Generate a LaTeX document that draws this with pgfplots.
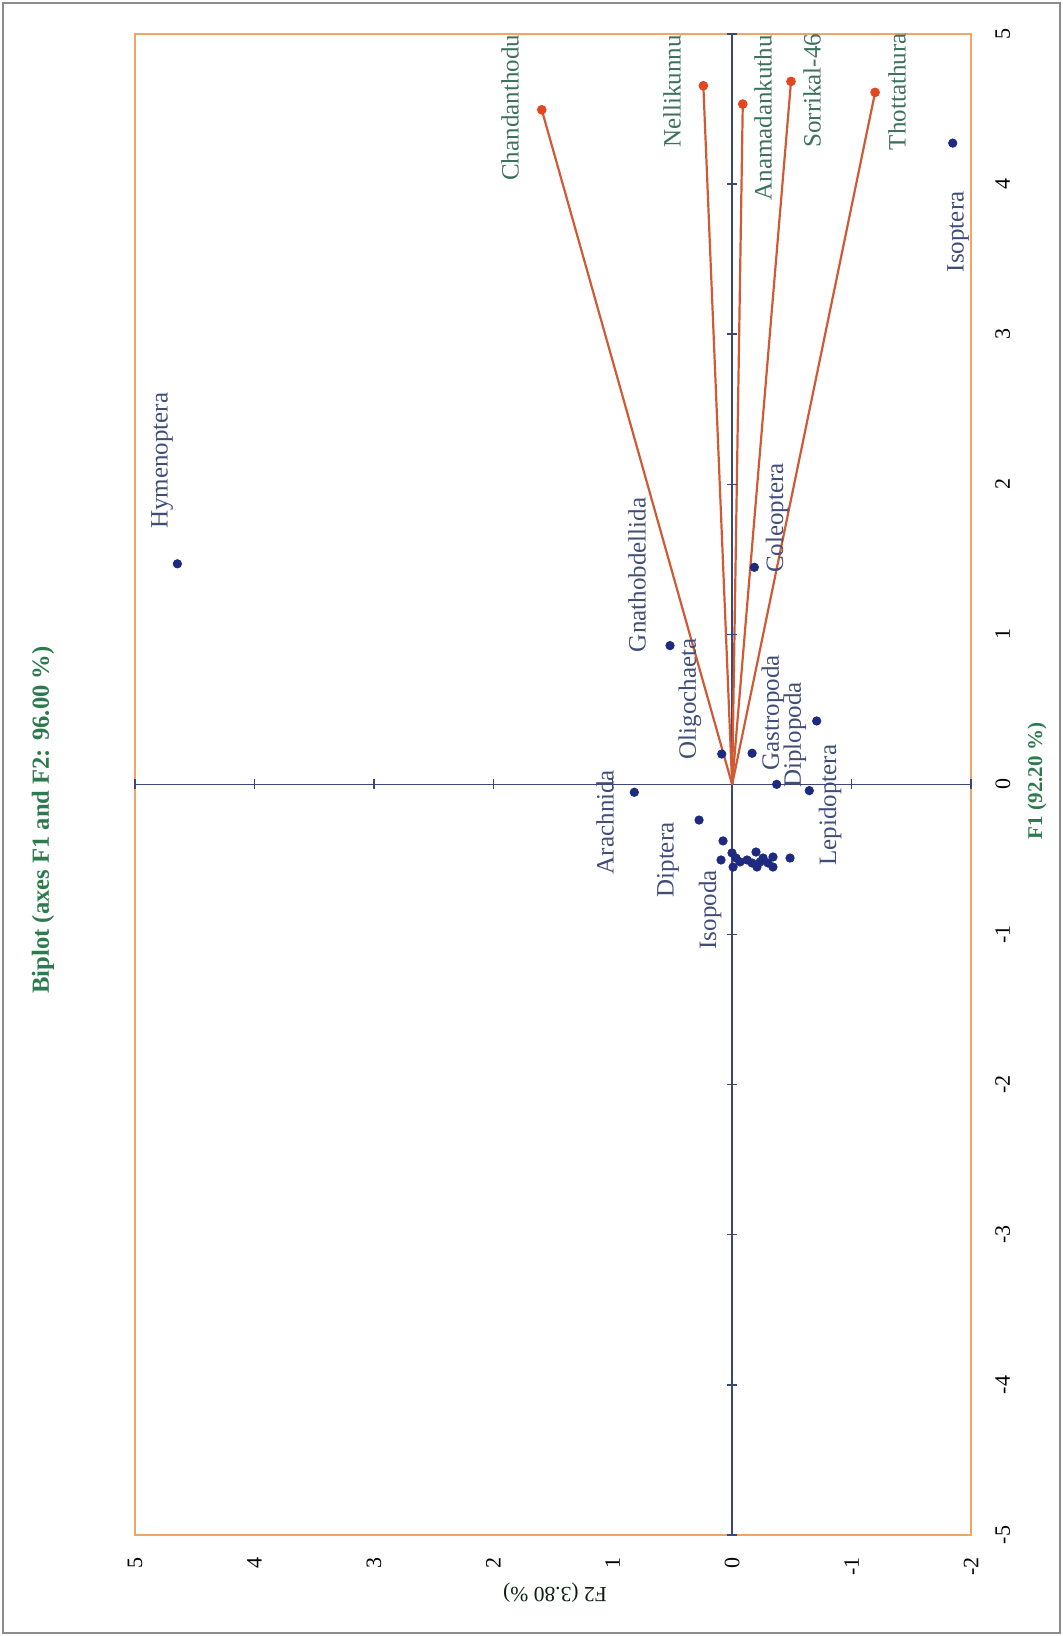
\documentclass[border=0pt]{standalone}
\usepackage{pgfplots}
\pgfplotsset{compat=1.18}
\usepackage{pgfplotstable}
\usepackage{fontspec}
\setmainfont{Liberation Serif}
\definecolor{frameorange}{HTML}{EFA664}
\definecolor{axisblue}{HTML}{3B4775}
\definecolor{vecred}{HTML}{CF5A34}
\definecolor{vecdot}{HTML}{E2471F}
\definecolor{obsblue}{HTML}{1E2A80}
\definecolor{varlab}{HTML}{3E7060}
\definecolor{obslab}{HTML}{414C78}
\definecolor{titlegreen}{HTML}{2D7A4E}
\definecolor{bordergray}{HTML}{8C8C8C}
\tikzset{
  varl/.style={rotate=90, text=varlab, font=\fontsize{12.5}{15}\selectfont, inner sep=0pt},
  obsl/.style={rotate=90, text=obslab, font=\fontsize{12.5}{15}\selectfont, inner sep=0pt},
}

% observations: F2 F1
\pgfplotstableread{
f2 f1
-1.847 4.273
4.645 1.470
0.520 0.925
-0.186 1.447
0.087 0.203
-0.167 0.208
-0.373 0.001
-0.646 -0.041
0.819 -0.052
0.277 -0.237
-0.708 0.423
0.076 -0.376
0.093 -0.503
0.001 -0.456
-0.008 -0.550
-0.033 -0.490
-0.066 -0.516
-0.125 -0.503
-0.167 -0.523
-0.200 -0.450
-0.208 -0.550
-0.234 -0.516
-0.259 -0.490
-0.300 -0.523
-0.342 -0.483
-0.342 -0.550
-0.485 -0.490
}\obs

% variables (vector ends): F2 F1
\pgfplotstableread{
f2 f1
1.594 4.495
0.241 4.655
-0.089 4.533
-0.493 4.684
-1.197 4.611
}\vars

% tick positions of the inner axes
\pgfplotstableread{
f2 f1
5 0
4 0
3 0
2 0
1 0
-1 0
-2 0
}\hticks
\pgfplotstableread{
f2 f1
0 -5
0 -4
0 -3
0 -2
0 -1
0 1
0 2
0 3
0 4
0 5
}\vticks

\begin{document}
\begin{tikzpicture}
\useasboundingbox (-67.5pt,-50.5pt) rectangle (464pt,767.5pt);
\draw[bordergray, line width=0.8pt] (-66pt,-49pt) rectangle (462.5pt,766pt);
\begin{axis}[
  scale only axis, width=418pt, height=750.5pt,
  xmin=-2, xmax=5, ymin=-5, ymax=5, x dir=reverse,
  axis line style={draw=frameorange, line width=1pt},
  xtick={-2,...,5}, ytick={-5,...,5},
  major tick length=0pt,
  tick style={draw=none},
  yticklabel pos=right,
  xticklabel style={rotate=90, anchor=east, inner sep=0pt, font=\fontsize{11}{13}\selectfont},
  yticklabel style={rotate=90, anchor=north, inner sep=0pt, font=\fontsize{11}{13}\selectfont},
  xticklabel shift=11pt, yticklabel shift=12pt,
  /pgf/number format/assume math mode=true,
  clip=false,
]
% inner axes
\addplot[axisblue, line width=0.7pt, no marks] coordinates {(5,0) (-2,0)};
\addplot[axisblue, line width=0.7pt, no marks] coordinates {(0,-5) (0,5)};
\addplot[axisblue, line width=0.7pt, only marks, mark=|, mark size=2.5pt] table[x=f2,y=f1] {\hticks};
\addplot[axisblue, line width=0.7pt, only marks, mark=-, mark size=2.5pt] table[x=f2,y=f1] {\vticks};
% vectors
\addplot[vecred, line width=1.1pt, no marks] coordinates {(0,0) (1.594,4.495)};
\addplot[vecred, line width=1.1pt, no marks] coordinates {(0,0) (0.241,4.655)};
\addplot[vecred, line width=1.1pt, no marks] coordinates {(0,0) (-0.089,4.533)};
\addplot[vecred, line width=1.1pt, no marks] coordinates {(0,0) (-0.493,4.684)};
\addplot[vecred, line width=1.1pt, no marks] coordinates {(0,0) (-1.197,4.611)};
\addplot[only marks, mark=*, mark size=2.2pt, mark options={fill=vecdot, draw=vecdot}] table[x=f2,y=f1] {\vars};
% observations
\addplot[only marks, mark=*, mark size=2.1pt, mark options={fill=obsblue, draw=obsblue}] table[x=f2,y=f1] {\obs};
% variable labels
\node[varl] at (axis cs:1.860,4.508) {Chandanthodu};
\node[varl] at (axis cs:0.503,4.615) {Nellikunnu};
\node[varl] at (axis cs:-0.259,4.442) {Anamadankuthu};
\node[varl] at (axis cs:-0.670,4.622) {Sorrikal-46};
\node[varl] at (axis cs:-1.380,4.615) {Thottathura};
% observation labels
\node[obsl] at (axis cs:-1.891,3.682) {Isoptera};
\node[obsl] at (axis cs:4.773,2.156) {Hymenoptera};
\node[obsl] at (axis cs:0.796,1.396) {Gnathobdellida};
\node[obsl] at (axis cs:-0.376,1.776) {Coleoptera};
\node[obsl] at (axis cs:0.353,0.570) {Oligochaeta};
\node[obsl] at (axis cs:-0.342,0.477) {Gastropoda};
\node[obsl] at (axis cs:-0.526,0.330) {Diplopoda};
\node[obsl] at (axis cs:-0.820,-0.137) {Lepidoptera};
\node[obsl] at (axis cs:1.064,-0.250) {Arachnida};
\node[obsl] at (axis cs:0.537,-0.503) {Diptera};
\node[obsl] at (axis cs:0.185,-0.836) {Isopoda};
\end{axis}
\node[rotate=90, text=titlegreen, font=\bfseries\fontsize{12.3}{15}\selectfont] at (-46pt,357.5pt) {Biplot (axes F1 and F2: 96.00 \%)};
\node[rotate=90, text=titlegreen, font=\bfseries\fontsize{10.5}{13}\selectfont] at (451pt,377pt) {F1 (92.20 \%)};
\node[rotate=180, text=black!75!titlegreen, font=\fontsize{10.8}{13}\selectfont] at (210pt,-29pt) {F2 (3.80 \%)};
\end{tikzpicture}
\end{document}
